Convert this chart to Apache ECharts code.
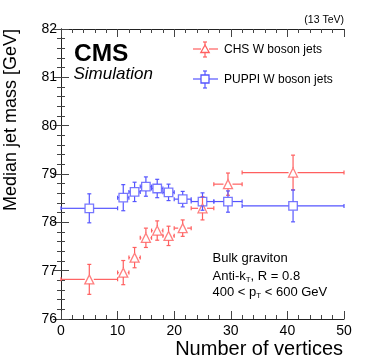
<!DOCTYPE html>
<html><head><meta charset="utf-8">
<script src="https://cdn.jsdelivr.net/npm/echarts@6/dist/echarts.min.js"></script>
<style>html,body{margin:0;padding:0;background:#fff}#c{width:374px;height:363px}</style>
</head><body><div id="c"></div>
<script>
var xCenters = [5, 11, 13, 15, 17, 19, 21.5, 25, 29.5, 41];
var xLow     = [0, 10, 12, 14, 16, 18, 20, 23, 27, 32];
var xHigh    = [10, 12, 14, 16, 18, 20, 23, 27, 32, 50];
var chsValues   = [76.82, 76.96, 77.27, 77.68, 77.83, 77.72, 77.88, 78.29, 78.79, 79.03];
var chsErrors   = [0.31, 0.25, 0.21, 0.20, 0.20, 0.20, 0.17, 0.24, 0.23, 0.36];
var puppiValues = [78.29, 78.51, 78.63, 78.74, 78.70, 78.62, 78.48, 78.43, 78.43, 78.34];
var puppiErrors = [0.30, 0.27, 0.20, 0.20, 0.19, 0.17, 0.16, 0.18, 0.22, 0.33];
var yTicks = [76, 77, 78, 79, 80, 81, 82];
var xTicks = [0, 10, 20, 30, 40, 50];

var RED = 'rgb(255,95,95)', BLUE = 'rgb(85,85,255)';
var FONT = '"Liberation Sans", Arial, sans-serif';

function errData(vals, errs) {
  return vals.map(function (v, i) { return [xCenters[i], v, xLow[i], xHigh[i], v - errs[i], v + errs[i]]; });
}
function errRender(color, gap) {
  return function (params, api) {
    var c = api.coord([api.value(0), api.value(1)]);
    var l = api.coord([api.value(2), api.value(1)]);
    var r = api.coord([api.value(3), api.value(1)]);
    var lo = api.coord([api.value(0), api.value(4)]);
    var hi = api.coord([api.value(0), api.value(5)]);
    var st = { stroke: color, lineWidth: 1.2 };
    var cap = 2;
    var els = [];
    function ln(x1, y1, x2, y2) { els.push({ type: 'line', shape: { x1: x1, y1: y1, x2: x2, y2: y2 }, style: st }); }
    if (c[0] - gap > l[0]) ln(l[0], c[1], c[0] - gap, c[1]);
    if (r[0] > c[0] + gap) ln(c[0] + gap, c[1], r[0], c[1]);
    if (c[1] - gap > hi[1]) ln(c[0], hi[1], c[0], c[1] - gap);
    if (lo[1] > c[1] + gap) ln(c[0], c[1] + gap, c[0], lo[1]);
    ln(l[0], c[1] - cap, l[0], c[1] + cap);
    ln(r[0], c[1] - cap, r[0], c[1] + cap);
    ln(c[0] - cap, hi[1], c[0] + cap, hi[1]);
    ln(c[0] - cap, lo[1], c[0] + cap, lo[1]);
    return { type: 'group', children: els };
  };
}
function pts(vals) { return vals.map(function (v, i) { return [xCenters[i], v]; }); }

var axisCommon = {
  axisLine: { show: true, lineStyle: { color: '#222', width: 1 } },
  axisTick: { show: true, inside: true, length: 8, lineStyle: { color: '#444' } },
  minorTick: { show: true, splitNumber: 5, length: 4, lineStyle: { color: '#444' } },
  splitLine: { show: false }
};
var sub = { s: { fontSize: 8, fontFamily: FONT, padding: [7, 0, 0, 0] } };

var chart = echarts.init(document.getElementById('c'), null, { renderer: 'canvas' });
chart.setOption({
  animation: false,
  grid: { left: 61, right: 30, top: 29, bottom: 44 },
  xAxis: [
    Object.assign({ type: 'value', min: 0, max: 50, interval: 10, position: 'bottom',
      axisLabel: { color: '#000', fontSize: 14, fontFamily: FONT, margin: 5,
        formatter: function (v) { return xTicks.indexOf(v) >= 0 ? String(v) : ''; } }
    }, axisCommon),
    Object.assign({ type: 'value', min: 0, max: 50, interval: 10, position: 'top', axisLabel: { show: false } }, axisCommon)
  ],
  yAxis: [
    Object.assign({ type: 'value', min: 76, max: 82, interval: 1, position: 'left',
      axisLabel: { color: '#000', fontSize: 14, fontFamily: FONT, margin: 4,
        formatter: function (v) { return yTicks.indexOf(v) >= 0 ? String(v) : ''; } }
    }, axisCommon),
    Object.assign({ type: 'value', min: 76, max: 82, interval: 1, position: 'right', axisLabel: { show: false } }, axisCommon)
  ],
  series: [
    { type: 'custom', name: 'CHS err', data: errData(chsValues, chsErrors), renderItem: errRender(RED, 4.5), z: 2 },
    { type: 'custom', name: 'PUPPI err', data: errData(puppiValues, puppiErrors), renderItem: errRender(BLUE, 4.5), z: 2 },
    { type: 'scatter', name: 'CHS W boson jets', data: pts(chsValues), symbol: 'triangle', symbolSize: 9,
      itemStyle: { color: 'rgba(255,255,255,0)', borderColor: RED, borderWidth: 1.3 }, z: 3 },
    { type: 'scatter', name: 'PUPPI W boson jets', data: pts(puppiValues), symbol: 'rect', symbolSize: 8.5,
      itemStyle: { color: 'rgba(255,255,255,0)', borderColor: BLUE, borderWidth: 1.3 }, z: 3 }
  ],
  graphic: [
    // axis titles
    { type: 'text', x: 343, y: 349.5, style: { text: 'Number of vertices', font: '20px ' + FONT, fill: '#000', align: 'right', verticalAlign: 'middle' } },
    { type: 'text', x: 11.5, y: 29, rotation: Math.PI / 2, style: { text: 'Median jet mass [GeV]', font: '18px ' + FONT, fill: '#000', align: 'right', verticalAlign: 'middle' } },
    // CMS labels
    { type: 'text', x: 74, y: 54, style: { text: 'CMS', font: 'bold 24.5px ' + FONT, fill: '#000', verticalAlign: 'middle' } },
    { type: 'text', x: 73.5, y: 74, style: { text: 'Simulation', font: 'italic 17px ' + FONT, fill: '#000', verticalAlign: 'middle' } },
    { type: 'text', x: 344, y: 20.5, style: { text: '(13 TeV)', font: '10.5px ' + FONT, fill: '#000', align: 'right', verticalAlign: 'middle' } },
    // legend CHS
    { type: 'line', shape: { x1: 193, y1: 49, x2: 201, y2: 49 }, style: { stroke: RED, lineWidth: 1.2 } },
    { type: 'line', shape: { x1: 209, y1: 49, x2: 218, y2: 49 }, style: { stroke: RED, lineWidth: 1.2 } },
    { type: 'line', shape: { x1: 205, y1: 42, x2: 205, y2: 45 }, style: { stroke: RED, lineWidth: 1.2 } },
    { type: 'line', shape: { x1: 205, y1: 53, x2: 205, y2: 57 }, style: { stroke: RED, lineWidth: 1.2 } },
    { type: 'line', shape: { x1: 203, y1: 42, x2: 207, y2: 42 }, style: { stroke: RED, lineWidth: 1.2 } },
    { type: 'line', shape: { x1: 203, y1: 57, x2: 207, y2: 57 }, style: { stroke: RED, lineWidth: 1.2 } },
    { type: 'polygon', shape: { points: [[205, 45], [209.2, 52.5], [200.8, 52.5]] }, style: { fill: 'none', stroke: RED, lineWidth: 1.3 } },
    { type: 'text', x: 224, y: 49.5, style: { text: 'CHS W boson jets', font: '12px ' + FONT, fill: '#000', verticalAlign: 'middle' } },
    // legend PUPPI
    { type: 'line', shape: { x1: 193, y1: 79, x2: 201, y2: 79 }, style: { stroke: BLUE, lineWidth: 1.2 } },
    { type: 'line', shape: { x1: 209, y1: 79, x2: 218, y2: 79 }, style: { stroke: BLUE, lineWidth: 1.2 } },
    { type: 'line', shape: { x1: 205, y1: 71, x2: 205, y2: 75 }, style: { stroke: BLUE, lineWidth: 1.2 } },
    { type: 'line', shape: { x1: 205, y1: 83, x2: 205, y2: 88 }, style: { stroke: BLUE, lineWidth: 1.2 } },
    { type: 'line', shape: { x1: 203, y1: 71, x2: 207, y2: 71 }, style: { stroke: BLUE, lineWidth: 1.2 } },
    { type: 'line', shape: { x1: 203, y1: 88, x2: 207, y2: 88 }, style: { stroke: BLUE, lineWidth: 1.2 } },
    { type: 'rect', shape: { x: 201, y: 75, width: 8, height: 8 }, style: { fill: 'none', stroke: BLUE, lineWidth: 1.3 } },
    { type: 'text', x: 224, y: 79.5, style: { text: 'PUPPI W boson jets', font: '12px ' + FONT, fill: '#000', verticalAlign: 'middle' } },
    // annotation
    { type: 'text', x: 212.5, y: 258, style: { text: 'Bulk graviton', font: '13px ' + FONT, fill: '#000', verticalAlign: 'middle' } },
    { type: 'text', x: 212.5, y: 276, style: { text: 'Anti-k{s|T}, R = 0.8', font: '13px ' + FONT, fill: '#000', verticalAlign: 'middle', rich: sub } },
    { type: 'text', x: 212.5, y: 292, style: { text: '400 < p{s|T} < 600 GeV', font: '13px ' + FONT, fill: '#000', verticalAlign: 'middle', rich: sub } }
  ]
});
</script></body></html>
